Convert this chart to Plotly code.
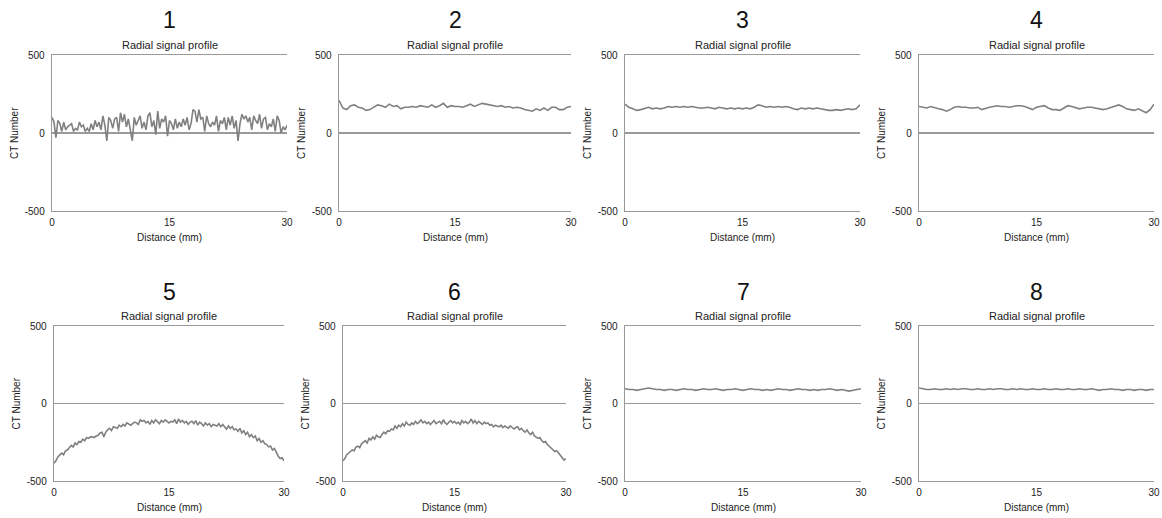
import numpy as np
import plotly.graph_objects as go

panel_labels = ["1", "2", "3", "4", "5", "6", "7", "8"]
x_ticks = [0, 15, 30]
y_ticks = [-500, 0, 500]
y_tick_text = ["-500", "0", "500"]

p1 = [100, 70, -30, 80, 60, 10, 70, 20, 40, 50, 60, 10, 30,
      20, 70, 40, 50, 10, 30, 10, 60, 20, 80, 40, 70,
      20, 110, 50, -50, 100, 80, 30, 90, 100, 10, 130, 70,
      120, 40, 90, 20, -50, 100, 50, 80, 110, 30, 70, 20,
      110, 130, 40, 80, -10, 140, 30, 90, 70, 110, -20, 80,
      60, 20, 90, 30, 70, 40, 90, 50, 100, 20, 60, 150,
      140, 70, 150, 90, 100, 10, 110, 60, 40, 70, 50, 110,
      10, 80, 60, 100, 20, 100, 50, 110, 30, 80, -50, 60,
      120, 90, 110, 70, 100, 20, 110, 80, 60, 120, 30, 90,
      100, 20, 60, 40, 90, 10, 110, 80, 0, 40, 20, 50]

p2 = [210, 160, 150, 175, 180, 165, 160, 145, 150, 165, 180, 175, 165, 185, 170,
      175, 155, 165, 165, 170, 165, 175, 170, 165, 180, 165, 175, 190, 165, 175,
      170, 170, 165, 175, 185, 170, 180, 190, 185, 180, 175, 170, 175, 165, 170,
      160, 165, 160, 150, 145, 140, 155, 145, 160, 145, 165, 165, 150, 150, 165, 170]

p3 = [185, 165, 155, 145, 150, 160, 165, 155, 160, 155,
      160, 170, 165, 170, 165, 170, 165, 170, 165, 160,
      160, 165, 160, 155, 165, 160, 155, 160, 155, 160,
      155, 160, 155, 165, 180, 175, 165, 170, 165, 170,
      165, 170, 165, 155, 150, 160, 155, 160, 155, 160,
      155, 150, 145, 145, 150, 145, 150, 155, 150, 155, 180]

p4 = [170, 165, 160, 170, 160, 155, 150, 140, 150, 165,
      170, 165, 165, 160, 160, 165, 150, 160, 165, 170,
      175, 170, 170, 165, 170, 175, 175, 170, 160, 150,
      165, 170, 175, 160, 150, 150, 145, 160, 175, 170,
      160, 155, 160, 165, 165, 160, 155, 150, 155, 165,
      175, 180, 170, 155, 150, 145, 155, 145, 130, 150, 185]

p5 = [-385, -370, -345, -335, -320, -330, -305, -300, -285, -270, -280, -255,
      -265, -245, -250, -230, -240, -220, -225, -215, -215, -220, -210, -205,
      -190, -185, -215, -185, -170, -160, -175, -150, -155, -160, -140, -150,
      -135, -145, -125, -130, -140, -130, -120, -125, -135, -105, -115, -110,
      -125, -115, -135, -110, -125, -105, -120, -130, -110, -120, -105, -115,
      -125, -115, -120, -105, -130, -100, -120, -110, -125, -115, -135, -120,
      -115, -130, -110, -140, -120, -130, -145, -125, -140, -130, -150, -135,
      -140, -145, -130, -150, -135, -150, -165, -145, -160, -150, -170, -165,
      -180, -160, -190, -175, -200, -185, -215, -200, -220, -210, -240, -225,
      -250, -240, -260, -265, -280, -275, -300, -290, -320, -340, -355, -350, -370]

p6 = [-370, -355, -330, -320, -310, -300, -305, -280, -275, -285, -260, -250,
      -240, -255, -225, -235, -215, -230, -205, -215, -220, -200, -185, -195,
      -175, -180, -165, -170, -145, -160, -140, -150, -130, -145, -120, -135,
      -140, -125, -135, -115, -130, -120, -105, -125, -115, -130, -120, -135,
      -125, -110, -130, -120, -115, -130, -105, -125, -135, -120, -110, -125,
      -115, -130, -120, -135, -110, -125, -115, -130, -120, -100, -125, -110,
      -130, -115, -125, -135, -120, -130, -125, -140, -135, -150, -140, -145,
      -150, -140, -155, -145, -150, -160, -145, -155, -165, -155, -150, -170,
      -160, -175, -185, -170, -190, -200, -185, -210, -215, -225, -220, -240,
      -250, -245, -265, -275, -285, -295, -310, -305, -320, -335, -350, -365, -355]

p7 = [95, 90, 90, 85, 90, 95, 100, 95, 90, 90,
      85, 90, 90, 85, 90, 95, 90, 90, 85, 90,
      95, 90, 90, 95, 90, 85, 90, 90, 95, 90,
      85, 90, 95, 90, 90, 85, 90, 85, 90, 95,
      90, 90, 85, 90, 95, 90, 90, 85, 90, 85,
      90, 90, 95, 90, 85, 90, 85, 80, 85, 90, 95]

p8 = [100, 95, 90, 90, 95, 90, 90, 95, 90, 95,
      90, 95, 95, 90, 90, 95, 90, 90, 95, 90,
      95, 95, 90, 90, 95, 90, 95, 90, 90, 95,
      90, 90, 95, 90, 90, 95, 90, 90, 95, 90,
      90, 95, 90, 90, 95, 90, 85, 90, 90, 95,
      90, 90, 85, 90, 90, 85, 90, 90, 85, 90, 90]

profiles = [p1, p2, p3, p4, p5, p6, p7, p8]

W, H = 1162, 518
# plot-area pixel boxes (left, right, top, bottom)
boxes = [
    (52, 287, 55, 211), (339, 571, 55, 211), (625, 860, 55, 211), (919, 1154, 55, 211),
    (54, 284, 326, 481), (343, 566, 326, 481), (625, 861, 326, 481), (919, 1154, 326, 481),
]


def fx(px):
    return px / W


def fy(py):
    return 1 - py / H


FONT = "Liberation Sans, Arial, Helvetica, sans-serif"
LINE = "#808080"
AX = "#9a9a9a"

fig = go.Figure()
layout = dict(width=W, height=H, margin=dict(l=0, r=0, t=0, b=0, pad=0, autoexpand=False),
              paper_bgcolor="white", plot_bgcolor="white", showlegend=False,
              font=dict(family=FONT, color="#222"))
annotations = []
for i, (vals, (l, r, t, b)) in enumerate(zip(profiles, boxes)):
    n = i + 1
    xa = "x" if n == 1 else f"x{n}"
    ya = "y" if n == 1 else f"y{n}"
    xs = np.linspace(0, 30, len(vals))
    fig.add_trace(go.Scatter(x=xs, y=vals, mode="lines", xaxis=xa, yaxis=ya,
                             line=dict(color=LINE, width=1.6), hoverinfo="skip"))
    xkey = "xaxis" if n == 1 else f"xaxis{n}"
    ykey = "yaxis" if n == 1 else f"yaxis{n}"
    layout[xkey] = dict(domain=[fx(l), fx(r)], range=[0, 30], anchor=ya,
                        tickvals=x_ticks, ticks="", showgrid=False, zeroline=False,
                        showline=True, mirror=True, linecolor=AX, linewidth=1.3,
                        tickfont=dict(size=10, color="#222"), ticklabelstandoff=2,
                        ticklabeloverflow="allow", automargin=False)
    layout[ykey] = dict(domain=[fy(b), fy(t)], range=[-500, 500], anchor=xa,
                        tickvals=y_ticks, ticktext=y_tick_text, ticks="", showgrid=True,
                        gridcolor=AX, gridwidth=1.3, zeroline=False,
                        showline=True, linecolor=AX, linewidth=1.3,
                        tickfont=dict(size=10, color="#222"), ticklabelstandoff=4,
                        automargin=False)
    cx = (l + r) / 2
    annotations.append(dict(text=panel_labels[i], x=fx(cx), y=fy(t - 34.5),
                            xref="paper", yref="paper", showarrow=False,
                            font=dict(size=23, color="#111"), xanchor="center", yanchor="middle"))
    annotations.append(dict(text="Radial signal profile", x=fx(cx), y=fy(t - 10.5),
                            xref="paper", yref="paper", showarrow=False,
                            font=dict(size=11, color="#222"), xanchor="center", yanchor="middle"))
    annotations.append(dict(text="Distance (mm)", x=fx(cx), y=fy(b + 26),
                            xref="paper", yref="paper", showarrow=False,
                            font=dict(size=10, color="#222"), xanchor="center", yanchor="middle"))
    annotations.append(dict(text="CT Number", x=fx(l - 38), y=fy((t + b) / 2),
                            xref="paper", yref="paper", showarrow=False, textangle=-90,
                            font=dict(size=10, color="#222"), xanchor="center", yanchor="middle"))

layout["annotations"] = annotations
fig.update_layout(**layout)
fig.write_html("out.html",
               config={"displayModeBar": False, "staticPlot": True},
               post_script="document.body.style.margin='0px';document.body.style.overflow='hidden';")
